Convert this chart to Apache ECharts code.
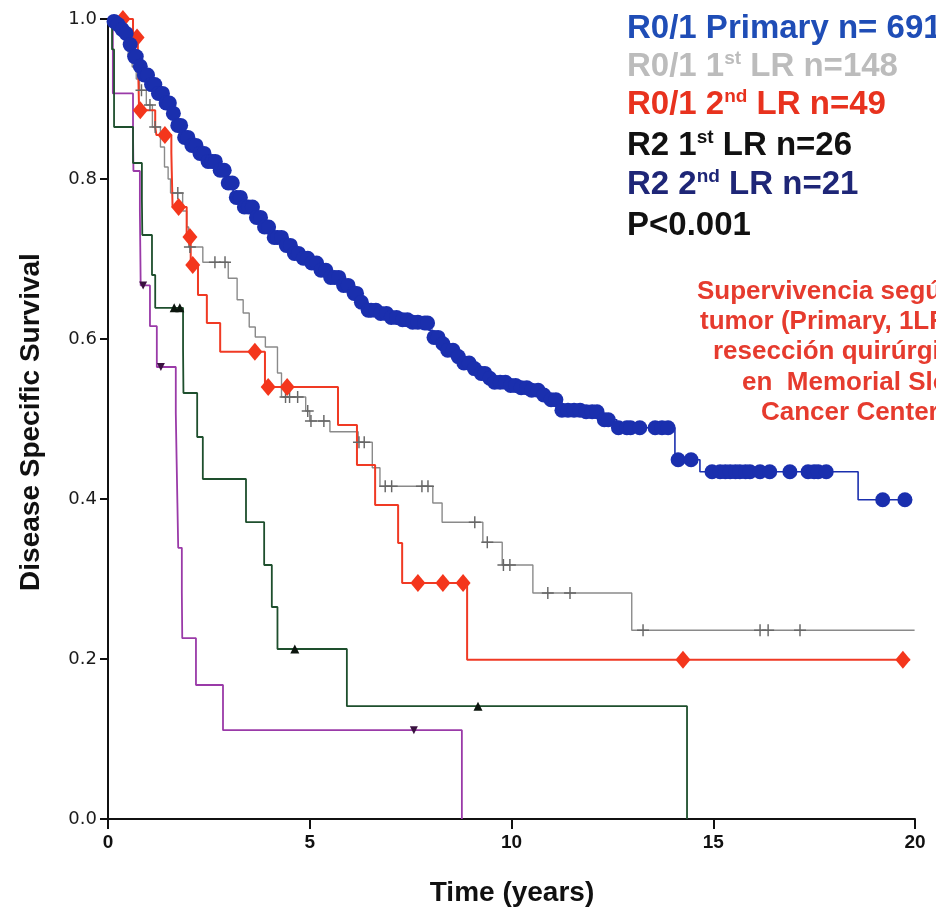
<!DOCTYPE html>
<html>
<head>
<meta charset="utf-8">
<script src="https://cdn.jsdelivr.net/npm/echarts@6/dist/echarts.min.js"></script>
<style>
  html, body { margin: 0; padding: 0; background: #ffffff; }
  #chart { width: 936px; height: 910px; }
</style>
</head>
<body>
<div id="chart"></div>
<script>
// Axis ticks
const timeTicks = [0, 5, 10, 15, 20];
const survivalTicks = [0, 0.2, 0.4, 0.6, 0.8, 1.0];

// Kaplan–Meier steps: [time (years), survival after the event]
const primarySteps = [
  [0, 1.0], [0.1, 0.997], [0.2, 0.993], [0.3, 0.987], [0.37, 0.982], [0.5, 0.968], [0.62, 0.953],
  [0.75, 0.941], [0.87, 0.93], [1.05, 0.918], [1.21, 0.907], [1.38, 0.895], [1.54, 0.882],
  [1.7, 0.867], [1.86, 0.852], [2.03, 0.842], [2.21, 0.832], [2.45, 0.822], [2.7, 0.811],
  [2.9, 0.795], [3.1, 0.777], [3.35, 0.765], [3.59, 0.752], [3.85, 0.74], [4.09, 0.727],
  [4.33, 0.717], [4.58, 0.707], [4.8, 0.701], [5.01, 0.695], [5.25, 0.686], [5.5, 0.677],
  [5.8, 0.667], [6.07, 0.657], [6.25, 0.646], [6.42, 0.636], [6.7, 0.632], [6.99, 0.627],
  [7.25, 0.624], [7.48, 0.621], [7.81, 0.62], [7.95, 0.611], [8.05, 0.602], [8.22, 0.594],
  [8.4, 0.586], [8.6, 0.578], [8.8, 0.57], [9.0, 0.563], [9.22, 0.557], [9.38, 0.551],
  [9.54, 0.546], [9.96, 0.542], [10.2, 0.539], [10.46, 0.536], [10.7, 0.53], [10.95, 0.524],
  [11.2, 0.511], [11.77, 0.509], [12.27, 0.499], [12.61, 0.489], [14.05, 0.449], [14.67, 0.434],
  [18.59, 0.399], [19.93, 0.399]
];
const primaryCensored = [
  0.15, 0.25, 0.35, 0.45, 0.55, 0.66, 0.7, 0.8, 0.9, 0.98, 1.08, 1.16, 1.25, 1.35, 1.44, 1.52,
  1.62, 1.73, 1.8, 1.9, 1.98, 2.08, 2.18, 2.28, 2.38, 2.48, 2.58, 2.66, 2.78, 2.88, 2.98, 3.08,
  3.18, 3.28, 3.38, 3.48, 3.58, 3.68, 3.78, 3.88, 3.98, 4.12, 4.2, 4.3, 4.42, 4.52, 4.62, 4.72,
  4.84, 4.95, 5.05, 5.17, 5.28, 5.4, 5.52, 5.62, 5.72, 5.84, 5.95, 6.1, 6.16, 6.28, 6.45, 6.52,
  6.64, 6.76, 6.9, 7.02, 7.15, 7.3, 7.42, 7.55, 7.68, 7.85, 7.92, 8.08, 8.18, 8.3, 8.42, 8.55,
  8.68, 8.82, 8.95, 9.08, 9.25, 9.34, 9.46, 9.58, 9.72, 9.85, 9.98, 10.1, 10.24, 10.38, 10.5,
  10.66, 10.8, 10.98, 11.1, 11.25, 11.4, 11.55, 11.7, 11.85, 12.0, 12.12, 12.3, 12.4, 12.65,
  12.86, 12.95, 13.18, 13.56, 13.73, 13.88, 14.13, 14.45, 14.97, 15.17, 15.3, 15.42, 15.55,
  15.66, 15.8, 15.91, 16.16, 16.4, 16.9, 17.35, 17.5, 17.6, 17.8, 19.2, 19.75
];

const firstLRSteps = [
  [0, 1.0], [0.15, 0.993], [0.25, 0.986], [0.35, 0.979], [0.42, 0.966], [0.5, 0.953], [0.6, 0.94],
  [0.7, 0.925], [0.78, 0.911], [0.95, 0.8925], [1.1, 0.865], [1.3, 0.84], [1.4, 0.815],
  [1.49, 0.8], [1.55, 0.7825], [1.85, 0.76], [1.95, 0.74], [2.0, 0.715], [2.35, 0.696],
  [2.98, 0.676], [3.2, 0.649], [3.35, 0.6325], [3.5, 0.615], [3.65, 0.6025], [3.9, 0.59],
  [4.2, 0.5575], [4.3, 0.5275], [4.9, 0.51], [5.0, 0.4975], [5.5, 0.484], [6.2, 0.471],
  [6.55, 0.439], [6.74, 0.416], [8.05, 0.395], [8.28, 0.371], [9.29, 0.346], [9.77, 0.3175],
  [10.53, 0.2825], [12.98, 0.236], [19.99, 0.236]
];
const firstLRCensored = [
  0.83, 1.04, 1.17, 1.73, 2.03, 2.65, 2.9, 4.4, 4.5, 4.7, 4.95, 5.03, 5.35, 6.22, 6.35, 6.87,
  7.03, 7.78, 7.93, 9.09, 9.4, 9.8, 9.96, 10.9, 11.45, 13.26, 16.16, 16.36, 17.15
];

const secondLRSteps = [
  [0, 1.0], [0.62, 0.977], [0.74, 0.955], [0.75, 0.933], [0.76, 0.91], [0.77, 0.886],
  [1.17, 0.865], [1.2, 0.855], [1.57, 0.833], [1.58, 0.81], [1.59, 0.788], [1.6, 0.765],
  [1.95, 0.7275], [2.05, 0.6925], [2.23, 0.655], [2.45, 0.62], [2.78, 0.584], [3.89, 0.54],
  [5.7, 0.4925], [6.17, 0.4425], [6.62, 0.3925], [7.19, 0.345], [7.29, 0.295], [8.9, 0.199],
  [19.88, 0.199]
];
const secondLRCensored = [0.37, 0.72, 0.8, 1.41, 1.75, 2.03, 2.1, 3.64, 3.97, 4.44, 7.68, 8.3, 8.8, 14.25, 19.7];

const r2FirstSteps = [
  [0, 1.0], [0.1, 0.962], [0.15, 0.865], [0.62, 0.82], [0.84, 0.775], [0.85, 0.73], [1.09, 0.68],
  [1.17, 0.639], [1.86, 0.5875], [1.87, 0.5325], [2.21, 0.4775], [2.35, 0.425], [3.42, 0.371],
  [3.87, 0.3175], [4.06, 0.265], [4.2, 0.2125], [5.92, 0.141], [14.35, 0]
];
const r2FirstCensored = [1.64, 1.78, 4.63, 9.17];

const r2SecondSteps = [
  [0, 1.0], [0.12, 0.907], [0.62, 0.857], [0.63, 0.81], [0.79, 0.76], [0.8, 0.714], [0.81, 0.667],
  [1.04, 0.616], [1.21, 0.565], [1.68, 0.5075], [1.7, 0.45], [1.72, 0.395], [1.74, 0.339],
  [1.83, 0.283], [1.84, 0.226], [2.18, 0.1675], [2.85, 0.111], [8.77, 0]
];
const r2SecondCensored = [0.87, 1.31, 7.58];

// Survival value of a step curve at time t
function survivalAt(steps, t) {
  let y = steps[0][1];
  for (const [st, sy] of steps) {
    if (st <= t) y = sy; else break;
  }
  return y;
}

const plusMark = 'path://M-0.6,-5 L0.6,-5 L0.6,-0.6 L5,-0.6 L5,0.6 L0.6,0.6 L0.6,5 L-0.6,5 L-0.6,0.6 L-5,0.6 L-5,-0.6 L-0.6,-0.6 Z';

const groups = [
  { name: 'R0/1 1st LR', steps: firstLRSteps, censored: firstLRCensored,
    lineColor: '#8a8a8a', lineWidth: 1.4, symbol: plusMark, symbolSize: [12, 12], symbolRotate: 0,
    markColor: '#666666', z: 2 },
  { name: 'R2 2nd LR', steps: r2SecondSteps, censored: r2SecondCensored,
    lineColor: '#9a3aa8', lineWidth: 1.8, symbol: 'triangle', symbolSize: 8, symbolRotate: 180,
    markColor: '#3a1240', z: 3 },
  { name: 'R2 1st LR', steps: r2FirstSteps, censored: r2FirstCensored,
    lineColor: '#1e4f2d', lineWidth: 1.8, symbol: 'triangle', symbolSize: 9, symbolRotate: 0,
    markColor: '#0c160e', z: 3 },
  { name: 'R0/1 2nd LR', steps: secondLRSteps, censored: secondLRCensored,
    lineColor: '#f03a24', lineWidth: 2, symbol: 'diamond', symbolSize: [15, 18], symbolRotate: 0,
    markColor: '#f4361c', z: 4 },
  { name: 'R0/1 Primary', steps: primarySteps, censored: primaryCensored,
    lineColor: '#1a2fae', lineWidth: 1.6, symbol: 'circle', symbolSize: 15, symbolRotate: 0,
    markColor: '#1a2fae', z: 5 }
];

const series = [];
groups.forEach(g => {
  series.push({
    name: g.name, type: 'line', step: 'end', data: g.steps, showSymbol: false, symbol: 'none',
    lineStyle: { color: g.lineColor, width: g.lineWidth }, z: g.z, animation: false, silent: true
  });
  series.push({
    name: g.name + ' censored', type: 'scatter', data: g.censored.map(t => [t, survivalAt(g.steps, t)]),
    symbol: g.symbol, symbolSize: g.symbolSize, symbolRotate: g.symbolRotate,
    itemStyle: { color: g.markColor, opacity: 1 }, z: g.z + 5, animation: false, silent: true
  });
});

const boldFont = '"Liberation Sans", Arial, Helvetica, sans-serif';
const legendRows = [
  { text: '{m|R0/1 Primary n= 691}', color: '#1f4db6' },
  { text: '{m|R0/1 1}{s|st}{m| LR n=148}', color: '#bcbcbc' },
  { text: '{m|R0/1 2}{s|nd}{m| LR n=49}', color: '#e8321e' },
  { text: '{m|R2 1}{s|st}{m| LR n=26}', color: '#111111' },
  { text: '{m|R2 2}{s|nd}{m| LR n=21}', color: '#1e2677' },
  { text: '{m|P<0.001}', color: '#111111' }
];
const legendTop = [29, 67, 105, 146, 185, 226];

const noteLines = [
  'Supervivencia según tipo de',
  'tumor (Primary, 1LR, 2LR) y',
  'resección quirúrgica (R0/1, R2)',
  'en  Memorial Sloan Kettering',
  'Cancer Center'
];
const noteX = [697, 700, 713, 742, 761];
const noteY = [292, 322, 352, 383, 413];

const graphics = [];
legendRows.forEach((row, i) => {
  graphics.push({
    type: 'text', x: 627, y: legendTop[i], z: 100,
    style: {
      text: row.text, fill: row.color, align: 'left', verticalAlign: 'middle',
      rich: {
        m: { fontSize: 33, fontWeight: 'bold', fontFamily: boldFont, fill: row.color, color: row.color, lineHeight: 36 },
        s: { fontSize: 19, fontWeight: 'bold', fontFamily: boldFont, fill: row.color, color: row.color, verticalAlign: 'top', lineHeight: 22 }
      }
    }
  });
});
noteLines.forEach((line, i) => {
  graphics.push({
    type: 'text', x: noteX[i], y: noteY[i], z: 100,
    style: {
      text: line, fill: '#e63b2e', align: 'left', verticalAlign: 'middle',
      font: 'bold 26px ' + boldFont
    }
  });
});
graphics.push({
  type: 'text', x: 512, y: 893, z: 100,
  style: { text: 'Time (years)', fill: '#111', align: 'center', verticalAlign: 'middle', font: 'bold 28px ' + boldFont }
});
graphics.push({
  type: 'text', x: 31, y: 422, rotation: Math.PI / 2, z: 100,
  style: { text: 'Disease Specific Survival', fill: '#111', align: 'center', verticalAlign: 'middle', font: 'bold 28px ' + boldFont }
});

const chart = echarts.init(document.getElementById('chart'), null, { renderer: 'canvas' });
chart.setOption({
  backgroundColor: '#ffffff',
  animation: false,
  grid: { left: 108, right: 21, top: 19, bottom: 91, containLabel: false },
  xAxis: {
    type: 'value', min: timeTicks[0], max: timeTicks[timeTicks.length - 1],
    interval: timeTicks[1] - timeTicks[0],
    axisLine: { show: true, onZero: false, lineStyle: { color: '#111', width: 2 } },
    axisTick: { show: true, length: 10, lineStyle: { color: '#111', width: 2 } },
    axisLabel: { color: '#111', fontSize: 19, fontWeight: 'bold', fontFamily: boldFont, margin: 14,
      formatter: v => String(v) },
    splitLine: { show: false }
  },
  yAxis: {
    type: 'value', min: survivalTicks[0], max: survivalTicks[survivalTicks.length - 1],
    interval: survivalTicks[1] - survivalTicks[0],
    axisLine: { show: true, onZero: false, lineStyle: { color: '#111', width: 2 } },
    axisTick: { show: true, length: 8, lineStyle: { color: '#111', width: 2 } },
    axisLabel: { color: '#1a1a1a', fontSize: 18, fontFamily: '"DejaVu Sans", sans-serif', margin: 11,
      formatter: v => v.toFixed(1) },
    splitLine: { show: false }
  },
  graphic: graphics,
  series: series
});
</script>
</body>
</html>
